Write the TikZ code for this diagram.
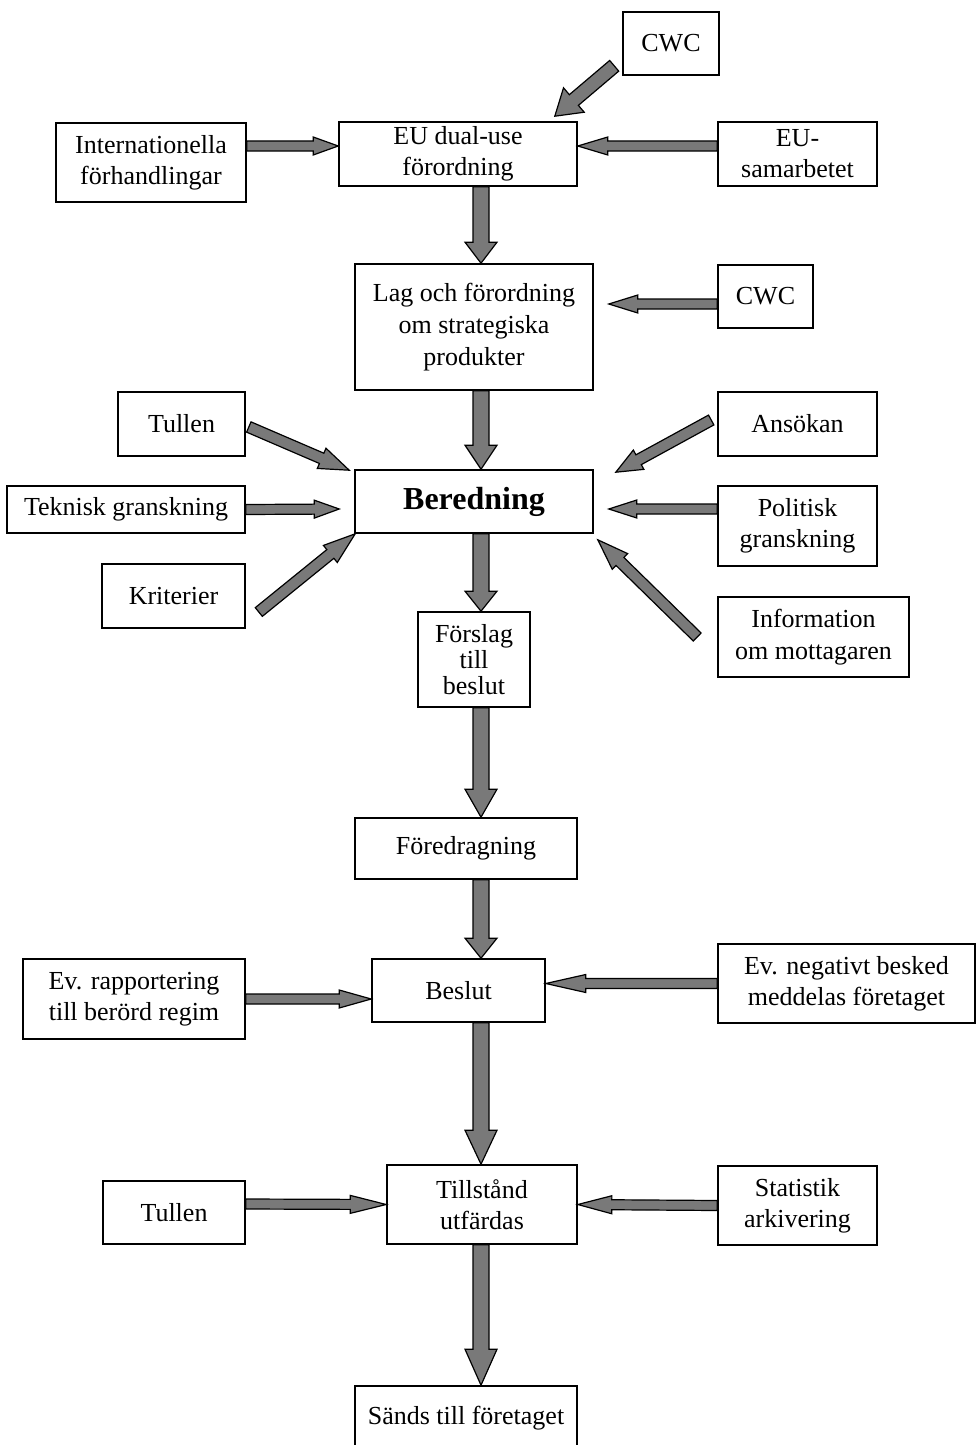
\documentclass[tikz,border=0pt]{standalone}
\usepackage{fontspec}
\setmainfont{Liberation Serif}
\usepackage{tikz}
\usetikzlibrary{calc}

\tikzset{
  box/.style={draw, line width=0.8pt, inner sep=0pt, align=center,
    font=\fontsize{13}{15.5}\selectfont},
  arrowfill/.style={draw, line width=0.6pt, fill=gray!95!black, line join=miter}
}

% block arrow: tail, tip, shaft half width, head half width, head length
\newcommand{\fatarrow}[5]{%
  \path ($(#2)!#5!(#1)$) coordinate (hb);
  \draw[arrowfill] ($(#1)!#3!90:(#2)$) -- ($(hb)!#3!90:(#2)$) -- ($(hb)!#4!90:(#2)$)
    -- (#2) -- ($(hb)!#4!-90:(#2)$) -- ($(hb)!#3!-90:(#2)$) -- ($(#1)!#3!-90:(#2)$) -- cycle;
}

\begin{document}
\begin{tikzpicture}[x=0.5pt,y=-0.5pt]
\useasboundingbox (0,0) rectangle (976,1445);

% Boxes
\node[box, minimum width=48pt, minimum height=31.5pt] (cwcA) at (671,43.5) {CWC};
\node[box, minimum width=95pt, minimum height=39.5pt] (intl) at (151,162.5) {Internationella\\förhandlingar};
\node[box, minimum width=119pt, minimum height=32pt] (eu) at (458,154) {EU dual-use\\förordning};
\node[box, minimum width=79.5pt, minimum height=32pt] (eusam) at (797.5,154) {EU-\\samarbetet};
\node[box, minimum width=119pt, minimum height=63pt, font=\fontsize{13}{16}\selectfont] (lag) at (474,327) {Lag och förordning\\om strategiska\\produkter};
\node[box, minimum width=47.5pt, minimum height=31.5pt] (cwcB) at (765.5,296.5) {CWC};
\node[box, minimum width=63.5pt, minimum height=32pt] (tullenA) at (181.5,424) {Tullen};
\node[box, minimum width=79.5pt, minimum height=32pt] (ansok) at (797.5,424) {Ansökan};
\node[box, minimum width=119pt, minimum height=23.5pt] (tekn) at (126,509.5) {Teknisk granskning};
\node[box, minimum width=119pt, minimum height=31.5pt, font=\fontsize{16}{18}\selectfont\bfseries] (bered) at (474,501.5) {Beredning};
\node[box, minimum width=79.5pt, minimum height=40pt] (polit) at (797.5,526) {Politisk\\granskning};
\node[box, minimum width=71.5pt, minimum height=32pt] (krit) at (173.5,596) {Kriterier};
\node[box, minimum width=56pt, minimum height=47.5pt, font=\fontsize{13}{13}\selectfont] (forsl) at (474,659.5) {Förslag\\till\\beslut};
\node[box, minimum width=95.5pt, minimum height=40pt, font=\fontsize{13}{16}\selectfont] (info) at (813.5,637) {Information\\om mottagaren};
\node[box, minimum width=111pt, minimum height=30.5pt] (fored) at (466,848.5) {Föredragning};
\node[box, minimum width=111pt, minimum height=40pt] (rapp) at (134,999) {Ev. rapportering\\till berörd regim};
\node[box, minimum width=86.5pt, minimum height=31.5pt] (beslut) at (458.5,990.5) {Beslut};
\node[box, minimum width=128.5pt, minimum height=39.5pt] (neg) at (846.5,983.5) {Ev. negativt besked\\meddelas företaget};
\node[box, minimum width=71pt, minimum height=31.5pt] (tullenB) at (174,1212.5) {Tullen};
\node[box, minimum width=95pt, minimum height=39.5pt] (tillst) at (482,1204.5) {Tillstånd\\utfärdas};
\node[box, minimum width=79.5pt, minimum height=39.5pt] (stat) at (797.5,1205.5) {Statistik\\arkivering};
\node[box, minimum width=111pt, minimum height=32pt] (sands) at (466,1418) {Sänds till företaget};

% Arrow ends
\coordinate (cwcA-o) at ([xshift=-4pt,yshift=5pt]cwcA.south west);
\coordinate (eu-i1) at ([xshift=-11.5pt,yshift=2.5pt]eu.north east);
\coordinate (intl-o) at ([yshift=8.25pt]intl.east);
\coordinate (eu-i2) at ([yshift=4pt]eu.west);
\coordinate (eusam-o) at ([yshift=4pt]eusam.west);
\coordinate (eu-i3) at ([yshift=4pt]eu.east);
\coordinate (eu-o) at ([xshift=11.5pt]eu.south);
\coordinate (lag-i1) at ([xshift=3.5pt]lag.north);
\coordinate (cwcB-o) at ([yshift=-3.75pt]cwcB.west);
\coordinate (lag-i2) at ([xshift=7.5pt,yshift=11.5pt]lag.east);
\coordinate (lag-o) at ([xshift=3.5pt]lag.south);
\coordinate (bered-i1) at ([xshift=3.5pt]bered.north);
\coordinate (tullenA-o) at ([xshift=1.5pt,yshift=-1.5pt]tullenA.east);
\coordinate (bered-i2) at ([xshift=-2.5pt,yshift=-0.5pt]bered.north west);
\coordinate (bered-i3) at ([xshift=-7.5pt,yshift=-3.75pt]bered.west);
\coordinate (krit-o) at ([xshift=6.5pt,yshift=-8pt]krit.east);
\coordinate (bered-i4) at ([xshift=0.5pt]bered.south west);
\coordinate (ansok-o) at ([xshift=-3pt,yshift=2pt]ansok.west);
\coordinate (bered-i5) at ([xshift=11pt,yshift=-1.5pt]bered.north east);
\coordinate (polit-o) at ([yshift=8.5pt]polit.west);
\coordinate (bered-i6) at ([xshift=7.5pt,yshift=-3.75pt]bered.east);
\coordinate (info-o) at ([xshift=-10pt]info.west);
\coordinate (bered-i7) at ([xshift=2pt,yshift=-3pt]bered.south east);
\coordinate (bered-o) at ([xshift=3.5pt]bered.south);
\coordinate (forsl-i) at ([xshift=3.5pt]forsl.north);
\coordinate (forsl-o) at ([xshift=3.5pt]forsl.south);
\coordinate (fored-i) at ([xshift=7.5pt]fored.north);
\coordinate (fored-o) at ([xshift=7.5pt]fored.south);
\coordinate (beslut-i1) at ([xshift=11.25pt]beslut.north);
\coordinate (beslut-i2) at ([yshift=-4.25pt]beslut.west);
\coordinate (beslut-i3) at ([yshift=3.5pt]beslut.east);
\coordinate (beslut-o) at ([xshift=11.25pt]beslut.south);
\coordinate (tillst-i1) at ([xshift=-0.5pt]tillst.north);
\coordinate (tullenB-o) at ([yshift=4.25pt]tullenB.east);
\coordinate (tillst-o) at ([xshift=-0.5pt]tillst.south);
\coordinate (sands-i) at ([xshift=7.5pt]sands.north);

% Arrows
\fatarrow{cwcA-o}{eu-i1}{3.5pt}{8pt}{12.5pt}
\fatarrow{intl-o}{eu-i2}{2.5pt}{4.5pt}{12.5pt}
\fatarrow{eusam-o}{eu-i3}{2.5pt}{4.5pt}{15pt}
\fatarrow{eu-o}{lag-i1}{4pt}{8pt}{10.5pt}
\fatarrow{cwcB-o}{lag-i2}{2.5pt}{4.5pt}{14.5pt}
\fatarrow{lag-o}{bered-i1}{4pt}{8pt}{12pt}
\fatarrow{tullenA-o}{bered-i2}{2.8pt}{5.5pt}{15pt}
\fatarrow{tekn.east}{bered-i3}{2.5pt}{4.5pt}{12.5pt}
\fatarrow{krit-o}{bered-i4}{2.8pt}{5.5pt}{16pt}
\fatarrow{ansok-o}{bered-i5}{2.8pt}{5.5pt}{13pt}
\fatarrow{polit-o}{bered-i6}{2.5pt}{4.5pt}{14pt}
\fatarrow{info-o}{bered-i7}{2.8pt}{5.5pt}{15.5pt}
\fatarrow{bered-o}{forsl-i}{4pt}{8pt}{10pt}
\fatarrow{forsl-o}{fored-i}{4pt}{8pt}{14pt}
\fatarrow{fored-o}{beslut-i1}{4pt}{8pt}{10pt}
\fatarrow{rapp.east}{beslut-i2}{2.5pt}{4.5pt}{16pt}
\fatarrow{neg.west}{beslut-i3}{2.5pt}{4.5pt}{20pt}
\fatarrow{beslut-o}{tillst-i1}{4pt}{8pt}{17pt}
\fatarrow{tullenB-o}{tillst.west}{2.5pt}{4.5pt}{18pt}
\fatarrow{stat.west}{tillst.east}{2.5pt}{4.5pt}{17pt}
\fatarrow{tillst-o}{sands-i}{4pt}{8pt}{18pt}
\end{tikzpicture}
\end{document}
